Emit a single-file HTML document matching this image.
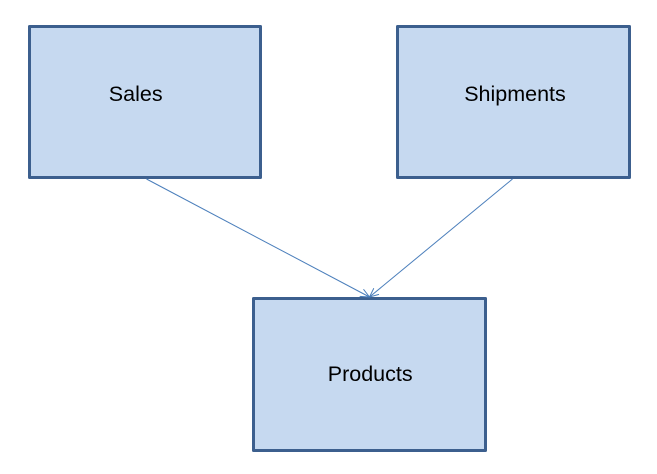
<!DOCTYPE html>
<html>
<head>
<meta charset="utf-8">
<style>
  html, body { margin: 0; padding: 0; background: #ffffff; }
  body { width: 657px; height: 474px; overflow: hidden; }
  svg { display: block; }
  text { font-family: "Liberation Sans", sans-serif; font-size: 21.5px; fill: #000000; }
</style>
</head>
<body>
<svg width="657" height="474" viewBox="0 0 657 474" xmlns="http://www.w3.org/2000/svg">
  <defs>
    <marker id="arr" viewBox="0 0 10 10" refX="10" refY="5" markerWidth="9" markerHeight="9" markerUnits="userSpaceOnUse" orient="auto">
      <path d="M0,0.5 L10,5 L0,9.5" fill="none" stroke="#4a7ebb" stroke-width="1.1"/>
    </marker>
  </defs>

  <!-- Sales -->
  <rect x="29.5" y="26.5" width="231" height="151" fill="#c6d9f0" stroke="#3c5f8e" stroke-width="3" stroke-linejoin="round"/>
  <text x="135.7" y="101" text-anchor="middle">Sales</text>

  <!-- Shipments -->
  <rect x="397.5" y="26.5" width="232" height="151" fill="#c6d9f0" stroke="#3c5f8e" stroke-width="3" stroke-linejoin="round"/>
  <text x="515" y="101" text-anchor="middle">Shipments</text>

  <!-- Products -->
  <rect x="253.5" y="298.5" width="232" height="152" fill="#c6d9f0" stroke="#3c5f8e" stroke-width="3" stroke-linejoin="round"/>
  <text x="370.2" y="381" text-anchor="middle">Products</text>

  <!-- Connectors -->
  <line x1="146.5" y1="179" x2="369.5" y2="297" stroke="#4a7ebb" stroke-width="1" marker-end="url(#arr)"/>
  <line x1="512.5" y1="179" x2="369.5" y2="297" stroke="#4a7ebb" stroke-width="1" marker-end="url(#arr)"/>
</svg>
</body>
</html>
